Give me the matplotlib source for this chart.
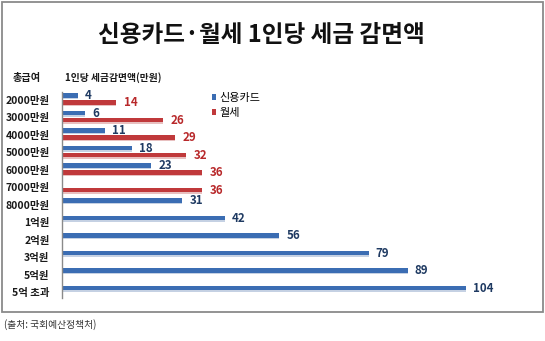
import numpy as np
import matplotlib.pyplot as plt
from matplotlib.patches import Rectangle

plt.rcParams['font.family'] = ['Noto Sans CJK KR', 'DejaVu Sans']

# 총급여 구간별 1인당 세금감면액 (만원)
categories = ['2000만원', '3000만원', '4000만원', '5000만원', '6000만원', '7000만원',
              '8000만원', '1억원', '2억원', '3억원', '5억원', '5억 초과']
card = [4, 6, 11, 18, 23, np.nan, 31, 42, 56, 79, 89, 104]
rent = [14, 26, 29, 32, 36, 36, np.nan, np.nan, np.nan, np.nan, np.nan, np.nan]

blue = '#3b6db3'
red = '#c0393b'
blue_txt = '#1f3a62'
red_txt = '#b8282a'

W, H = 545, 341
fig = plt.figure(figsize=(W / 100, H / 100), dpi=100)

# 바깥 테두리
fig.patches.append(Rectangle((2 / W, 1 - 312 / H), 541 / W, 310 / H,
                             transform=fig.transFigure, fill=False,
                             edgecolor='#8a8a8a', linewidth=1.3))

ax = fig.add_axes([62 / W, 1 - 298 / H, 466 / W, 206 / H])
y = np.arange(len(categories))
h = 0.28
off = 0.2

# 막대 아래 옅은 그림자
ax.barh(y - off + 0.08, card, height=h, color='#c5d1e3', zorder=1)
ax.barh(y + off + 0.08, rent, height=h, color='#e8c0c0', zorder=1)
ax.barh(y - off, card, height=h, color=blue, label='신용카드', zorder=2)
ax.barh(y + off, rent, height=h, color=red, label='월세', zorder=2)

for i, v in enumerate(card):
    if not np.isnan(v):
        ax.annotate(f'{v:g}', (v, i - off), xytext=(5, 0), textcoords='offset points',
                    va='center', ha='left', fontsize=8.3, fontweight='bold', color=blue_txt)
for i, v in enumerate(rent):
    if not np.isnan(v):
        ax.annotate(f'{v:g}', (v, i + off), xytext=(5.5, 0), textcoords='offset points',
                    va='center', ha='left', fontsize=8.3, fontweight='bold', color=red_txt)

ax.set_xlim(0, 120)
ax.set_ylim(11.37, -0.4)
ax.set_xticks([])
ax.set_yticks(y + 0.05)
ax.set_yticklabels(categories, fontsize=7.5, fontweight='bold', color='#1a1a1a')
ax.tick_params(axis='y', length=0, pad=9)
for s in ['top', 'right', 'bottom']:
    ax.spines[s].set_visible(False)
ax.spines['left'].set_color('#8a8a8a')
ax.spines['left'].set_linewidth(1)

leg = ax.legend(loc='upper left', bbox_to_anchor=(140 / 466, 1.045), frameon=False,
                fontsize=8, handlelength=0.35, handleheight=0.45, handletextpad=0.35,
                labelspacing=0.5)

fig.text(261 / W, 1 - 35 / H, '신용카드·월세 1인당 세금 감면액', ha='center', va='center',
         fontsize=17, fontweight='heavy', color='#111111')
fig.text(27 / W, 1 - 78 / H, '총급여', ha='center', va='center', fontsize=7.3,
         fontweight='bold', color='#1a1a1a')
fig.text(65 / W, 1 - 78 / H, '1인당 세금감면액(만원)', ha='left', va='center', fontsize=7,
         fontweight='bold', color='#1a1a1a')
fig.text(4 / W, 1 - 325 / H, '(출처: 국회예산정책처)', ha='left', va='center', fontsize=7,
         color='#333333')

fig.savefig('out.png', dpi=100)
